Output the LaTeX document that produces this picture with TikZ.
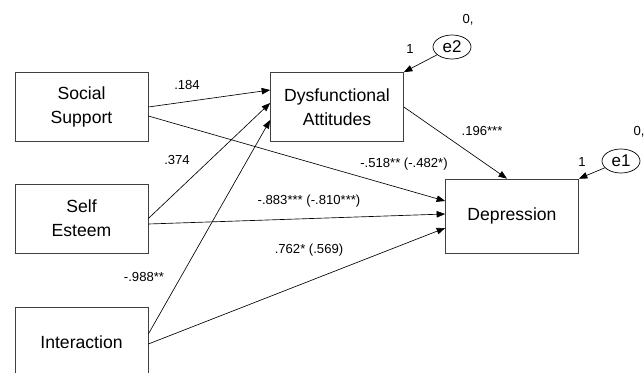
\documentclass[tikz,border=0pt]{standalone}
\usepackage{fontspec}
\setmainfont{Liberation Sans}
\usetikzlibrary{arrows.meta,positioning,shapes.geometric}

\begin{document}
\begin{tikzpicture}[x=1pt,y=-1pt,
    boks/.style={draw=black!75,line width=0.7pt,minimum width=133pt,minimum height=69pt,
      align=center,inner sep=0pt,font=\fontsize{17.6}{24}\selectfont},
    fejl/.style={draw,ellipse,line width=0.7pt,minimum width=38pt,minimum height=24pt,
      inner sep=0pt,font=\fontsize{17}{20}\selectfont},
    sti/.style={-{Triangle[length=8.5pt,width=6.5pt]},line width=0.65pt},
    koef/.style={inner sep=0pt,font=\fontsize{13.1}{15}\selectfont}]
    \useasboundingbox (0,0) rectangle (644,372);
    % observerede variable
    \node[boks] (ss)  at (81.5,107)   {Social\\Support};
    \node[boks] (se)  at (81.5,218.5) {Self\\Esteem};
    \node[boks,minimum height=70pt] (ia) at (81.5,342) {Interaction};
    \node[boks] (da)  at (337,107)    {Dysfunctional\\Attitudes};
    \node[boks,minimum height=74pt] (dep) at (512,216) {Depression};
    % residualer
    \node[fejl] (e2) at (452,47)  {e2};
    \node[fejl] (e1) at (621,161) {e1};
    \node[koef] (e2v) at (468,20)  {0,};
    \node[koef] (e2w) at (410,49)  {1};
    \node[koef] (e1v) at (639,132) {0,};
    \node[koef] (e1w) at (582,162) {1};
    \draw[sti] (e2) -- (da.north east);
    \draw[sti] (e1) -- (dep.north east);
    % stier mod Dysfunctional Attitudes
    \draw[sti] (ss.east) -- ([yshift=17pt]da.west);
    \draw[sti] (se.east) -- ([yshift=4pt]da.west);
    \draw[sti] ([yshift=8pt]ia.east) -- ([yshift=-13pt]da.west);
    % stier mod Depression
    \draw[sti] ([yshift=-9pt]ss.east) -- ([yshift=15pt]dep.west);
    \draw[sti] ([yshift=-5.5pt]se.east) -- ([yshift=2pt]dep.west);
    \draw[sti] ([yshift=-2pt]ia.east) -- ([yshift=-12pt]dep.west);
    \draw[sti] (da.east) -- ([xshift=-5pt]dep.north);
    % koefficienter
    \node[koef] (k1) at (187,85)  {.184};
    \node[koef] (k2) at (177,160) {.374};
    \node[koef] (k3) at (144,277) {-.988**};
    \node[koef] (k4) at (482,131) {.196***};
    \node[koef] (k5) at (404,164) {-.518** (-.482*)};
    \node[koef] (k6) at (309,201) {-.883*** (-.810***)};
    \node[koef] (k7) at (309,250) {.762* (.569)};
\end{tikzpicture}
\end{document}
